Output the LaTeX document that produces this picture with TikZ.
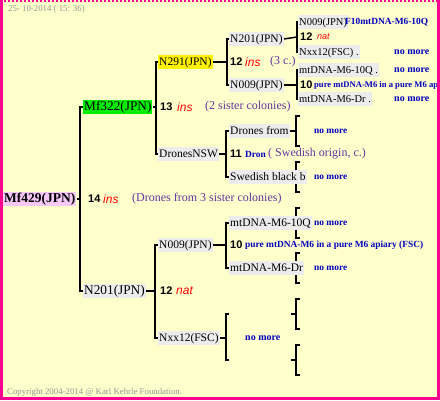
\documentclass[tikz,border=0pt]{standalone}
\usepackage{fontspec}
\setmainfont{Liberation Serif}
\newfontfamily\numfont{Liberation Sans}
\pgfdeclarelayer{paper}
\pgfdeclarelayer{background}
\pgfsetlayers{paper,background,main}
\definecolor{bgyellow}{RGB}{255,255,204}
\definecolor{framepink}{RGB}{255,0,144}
\definecolor{boxgray}{RGB}{236,236,236}
\definecolor{rootpink}{RGB}{248,200,248}
\definecolor{beegreen}{RGB}{0,238,0}
\definecolor{notepurple}{RGB}{102,51,160}
\definecolor{infoblue}{RGB}{0,0,190}
\definecolor{stampgray}{RGB}{150,150,150}
\begin{document}
\begin{tikzpicture}[x=1pt,y=-1pt,
    qbox/.style={anchor=west,fill=boxgray,inner xsep=1pt,inner ysep=1pt,
      text height=9pt,text depth=3pt,font=\fontsize{11.5}{11.5}\selectfont},
    bigbox/.style={qbox,font=\fontsize{13.3}{13.3}\selectfont},
    leafbox/.style={qbox,font=\fontsize{10.5}{10.5}\selectfont},
    rootbox/.style={qbox,fill=rootpink,font=\fontsize{13.5}{13.5}\selectfont\bfseries},
    gen/.style={anchor=west,inner sep=0pt,font=\fontsize{11}{11}\numfont\bfseries},
    mating/.style={anchor=west,inner sep=0pt,red,font=\fontsize{12}{12}\numfont\itshape},
    smallmating/.style={mating,font=\fontsize{9}{9}\numfont\itshape},
    remark/.style={anchor=west,inner sep=0pt,notepurple,font=\fontsize{12}{12}\selectfont},
    bluetext/.style={anchor=west,inner sep=0pt,infoblue,font=\fontsize{9.4}{9.4}\selectfont\bfseries},
    nomore/.style={anchor=west,inner sep=0pt,infoblue,font=\fontsize{10}{10}\selectfont\bfseries},
    stamp/.style={anchor=west,inner sep=0pt,stampgray,font=\fontsize{8.8}{8.8}\selectfont},
    link/.style={line width=1.5pt}]
  \useasboundingbox (0,0) rectangle (440,400);
  \begin{pgfonlayer}{paper}
    \fill[bgyellow] (0,0) rectangle (440,400);
  \end{pgfonlayer}

  \node[stamp] (date) at (8,9) {25- 10-2014 ( 15: 36)};
  \node[stamp] (copy) at (7,392) {Copyright 2004-2014 @ Karl Kehrle Foundation.};

  % queens
  \node[rootbox] (mf429) at (3,199) {Mf429(JPN)};
  \node[bigbox,fill=beegreen] (mf322) at (83,107) {Mf322(JPN)};
  \node[bigbox] (n201a) at (83,291) {N201(JPN)};
  \node[qbox,fill=yellow] (n291) at (158,62) {N291(JPN)};
  \node[qbox] (dronesnsw) at (158,154) {DronesNSW};
  \node[qbox] (n009b) at (158,245) {N009(JPN)};
  \node[qbox] (nxx12b) at (158,338) {Nxx12(FSC)};
  \node[qbox] (n201c) at (229,39) {N201(JPN)};
  \node[qbox] (n009c) at (229,85) {N009(JPN)};
  \node[qbox] (drones) at (229,131) {Drones from};
  \node[qbox] (swedish) at (229,177) {Swedish black b};
  \node[qbox] (mt10qb) at (229,223) {mtDNA-M6-10Q};
  \node[qbox] (mtdrb) at (229,268) {mtDNA-M6-Dr};
  \node[leafbox] (n009d) at (298,22) {N009(JPN)};
  \node[leafbox] (nxx12d) at (298,52) {Nxx12(FSC) .};
  \node[leafbox] (mt10qd) at (298,70) {mtDNA-M6-10Q .};
  \node[leafbox] (mtdrd) at (298,99) {mtDNA-M6-Dr .};

  % matings
  \node[gen] (g14) at (88,199) {14};
  \node[mating] (m14) at (103,199) {ins};
  \node[remark] (t14) at (132,199) {(Drones from 3 sister colonies)};
  \node[gen] (g13) at (160,107) {13};
  \node[mating] (m13) at (177,107) {ins};
  \node[remark] (t13) at (205,107) {(2 sister colonies)};
  \node[gen] (g12a) at (160,291) {12};
  \node[mating] (m12a) at (176,291) {nat};
  \node[gen] (g12b) at (230,62) {12};
  \node[mating] (m12b) at (245,62) {ins};
  \node[remark] (t12b) at (270,62) {(3 c.)};
  \node[gen] (g11) at (230,154) {11};
  \node[bluetext] (i11) at (245,154) {Dron};
  \node[remark] (t11) at (268,154) {( Swedish origin, c.)};
  \node[gen] (g10a) at (230,245) {10};
  \node[bluetext] (i10a) at (245,245) {pure mtDNA-M6 in a pure M6 apiary (FSC)};
  \node[gen] (g12c) at (300,37) {12};
  \node[smallmating] (m12c) at (317,37) {nat};
  \node[bluetext] (i12c) at (345,22) {F10mtDNA-M6-10Q};
  \node[gen] (g10b) at (300,85) {10};
  \node[bluetext,font=\fontsize{8.6}{8.6}\selectfont\bfseries] (i10b) at (314,85) {pure mtDNA-M6 in a pure M6 ap};

  % no more
  \node[nomore] (nm1) at (394,52) {no more};
  \node[nomore] (nm2) at (394,70) {no more};
  \node[nomore] (nm3) at (394,99) {no more};
  \node[bluetext] (nm4) at (314,131) {no more};
  \node[bluetext] (nm5) at (314,177) {no more};
  \node[bluetext] (nm6) at (314,223) {no more};
  \node[bluetext] (nm7) at (314,268) {no more};
  \node[nomore] (nm8) at (245,338) {no more};

  % spines
  \coordinate (s1) at (80,199);
  \coordinate (s2) at (156,107);
  \coordinate (s3) at (155,291);
  \coordinate (s4) at (227,62);
  \coordinate (s5) at (226,154);
  \coordinate (s6) at (226,245);
  \coordinate (s7) at (226,338);
  \coordinate (s8) at (297,37);
  \coordinate (s9) at (297,85);
  \coordinate (s10) at (296,131);
  \coordinate (s11) at (296,177);
  \coordinate (s12) at (296,223);
  \coordinate (s13) at (296,268);
  \coordinate (s14) at (296,314);
  \coordinate (s15) at (296,360);

  \begin{pgfonlayer}{background}
    \begin{scope}[link]
      \draw (mf429.east) -- (s1);
      \draw (mf322.west) -| (s1) |- (n201a.west);
      \draw (mf322.east) -- (s2);
      \draw (n291.west) -| (s2) |- (dronesnsw.west);
      \draw (n201a.east) -- (s3);
      \draw (n009b.west) -| (s3) |- (nxx12b.west);
      \draw (n291.east) -- (s4);
      \draw (n201c.west) -| (s4) |- (n009c.west);
      \draw (dronesnsw.east) -- (s5);
      \draw (drones.west) -| (s5) |- (swedish.west);
      \draw (n009b.east) -- (s6);
      \draw (mt10qb.west) -| (s6) |- (mtdrb.west);
      \draw (nxx12b.east) -- (s7);
      \draw (229,314) -| (s7) |- (229,360);
      \draw (n201c.east) -- (s8);
      \draw (n009d.west) -| (s8) |- (nxx12d.west);
      \draw (n009c.east) -- (s9);
      \draw (mt10qd.west) -| (s9) |- (mtdrd.west);
      \draw (drones.east) -- (s10);
      \foreach \s in {s10,s11,s12,s13,s14,s15} {
        \draw ([shift={(4,-15)}]\s) -| (\s) |- ([shift={(4,15)}]\s);
      }
      \draw ([xshift=-5pt]s11) -- (s11);
      \draw ([xshift=-5pt]s12) -- (s12);
      \draw ([xshift=-5pt]s13) -- (s13);
      \draw ([xshift=-5pt]s14) -- (s14);
      \draw ([xshift=-5pt]s15) -- (s15);
    \end{scope}
  \end{pgfonlayer}

  % frame
  \fill[framepink] (0,0) rectangle (3,400);
  \fill[framepink] (437,0) rectangle (440,400);
  \fill[framepink] (0,397) rectangle (440,400);
  \draw[framepink,line width=2pt,dash pattern=on 2pt off 2pt] (0,1) -- (440,1);
\end{tikzpicture}
\end{document}
